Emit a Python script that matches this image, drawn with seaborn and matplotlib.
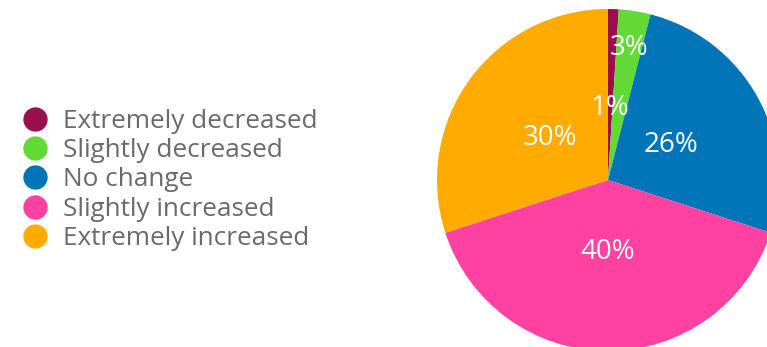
import matplotlib
matplotlib.use("Agg")
import matplotlib.pyplot as plt
from matplotlib.lines import Line2D
import numpy as np
import seaborn as sns

categories = ["Extremely decreased", "Slightly decreased", "No change",
              "Slightly increased", "Extremely increased"]
shares = [1, 3, 26, 40, 30]
colors = ["#98104E", "#62D935", "#0175B8", "#FF41A1", "#FFAB00"]

sns.set_theme(style="white")
plt.rcParams["font.family"] = ["Open Sans", "DejaVu Sans"]

W, H = 767, 347
fig = plt.figure(figsize=(W / 100, H / 100), dpi=100)
fig.patch.set_facecolor("white")

# pie axes: centre (608, 180) px, radius 171 px
cx, cy, r = 608, 180, 171
ax = fig.add_axes([(cx - r) / W, (H - cy - r) / H, 2 * r / W, 2 * r / H])
ax.axis("off")

wedges, _ = ax.pie(shares, colors=colors, startangle=90, counterclock=False,
                   wedgeprops=dict(linewidth=0))
ax.set_xlim(-1, 1)
ax.set_ylim(-1, 1)
ax.set_aspect("equal")

# percentage labels inside the wedges
total = sum(shares)
cum = 0
for i, v in enumerate(shares):
    mid = (cum + v / 2) / total * 360
    cum += v
    dist = 0.78 if i == 1 else 0.42
    ang = np.deg2rad(90 - mid)
    ax.text(dist * np.cos(ang), dist * np.sin(ang), f"{v}%", color="white",
            ha="center", va="center", fontsize=20)

handles = [Line2D([], [], marker="o", linestyle="none", markersize=16.5,
                  markerfacecolor=c, markeredgecolor=c) for c in colors]
leg = fig.legend(handles, categories, loc="center left",
                 bbox_to_anchor=(22 / W, 1 - 180 / H), frameon=False,
                 fontsize=18.8, labelspacing=0.16, handletextpad=0.58,
                 handlelength=1.0, borderpad=0, borderaxespad=0)
for t in leg.get_texts():
    t.set_color("#6A6A6A")

fig.savefig("out.png", dpi=100)
